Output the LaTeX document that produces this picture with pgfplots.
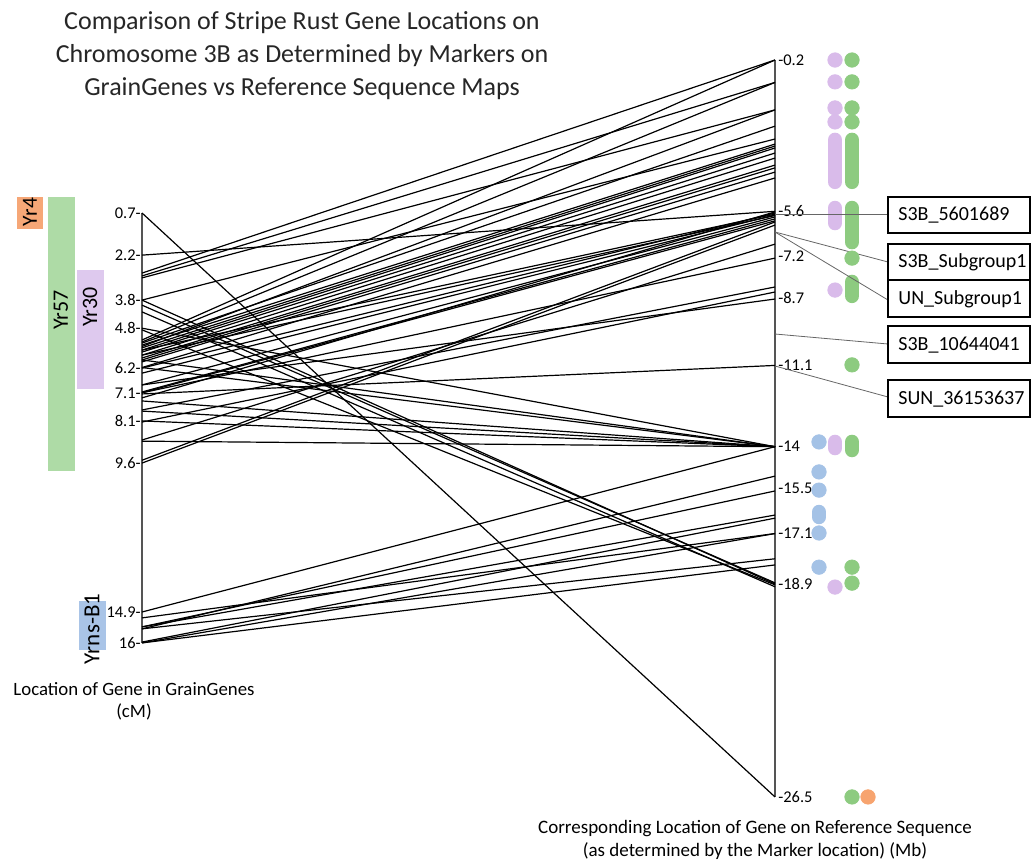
\documentclass[border=0pt]{standalone}
\usepackage{pgfplots}
\pgfplotsset{compat=1.18}
\usepackage{pgfplotstable}
\usepackage{fontspec}
\setmainfont{Carlito}

\definecolor{gdot}{HTML}{8DCB80}
\definecolor{pdot}{HTML}{D9BBEA}
\definecolor{bdot}{HTML}{A4C2E6}
\definecolor{odot}{HTML}{F7A46F}
\definecolor{gbar}{HTML}{AEDBA6}
\definecolor{pbar}{HTML}{DEC9EE}
\definecolor{obar}{HTML}{F6A777}
\definecolor{bbar}{HTML}{A9C4E7}
\definecolor{axcol}{HTML}{555555}

% marker links: L = location on GrainGenes map (cM), R = location on reference sequence (Mb)
\pgfplotstableread{
L R
0.7 -26.5
2.2 -5.6
2.84 -0.2
2.94 -1.0
3.01 -1.98
3.8 -3.02
3.8 -18.9
3.98 -18.86
4.22 -19.0
4.8 -14.0
4.86 -18.93
5.22 -0.2
5.29 -1.0
5.33 -2.56
5.40 -3.2
5.45 -1.98
5.50 -3.27
5.58 -3.34
5.65 -3.52
5.76 -3.7
5.86 -3.95
5.93 -4.05
6.0 -4.2
6.2 -4.41
6.22 -5.66
6.4 -5.73
6.82 -5.8
7.07 -5.87
7.1 -5.94
7.14 -11.1
7.28 -5.62
7.39 -14.0
7.71 -8.3
7.75 -14.0
8.1 -14.0
8.14 -8.48
8.78 -6.77
8.82 -14.0
9.5 -5.98
9.6 -6.09
6.82 -8.73
7.1 -7.27
6.2 -14.0
5.93 -14.0
5.58 -5.7
5.76 -5.75
14.9 -14.0
15.11 -17.1
15.43 -15.58
15.43 -16.44
15.5 -15.05
15.97 -16.55
16.0 -18.22
16.0 -17.1
15.5 -18.0
}\links

\begin{document}
\begin{tikzpicture}
\begin{axis}[
  width=516pt, height=430.5pt, scale only axis,
  xmin=0, xmax=1032, ymin=0, ymax=861, y dir=reverse,
  hide axis, clip=false,
]
\addplot[draw=none, forget plot] coordinates {(0,0)(1032,861)};

% gene region bars (left)
\addplot[fill=obar, draw=none] coordinates {(17,197)(43,197)(43,229)(17,229)};
\addplot[fill=gbar, draw=none] coordinates {(48,197)(75,197)(75,471)(48,471)};
\addplot[fill=pbar, draw=none] coordinates {(77,270)(104,270)(104,389)(77,389)};
\addplot[fill=bbar, draw=none] coordinates {(79,601)(106,601)(106,650)(79,650)};
\node[rotate=90, font=\fontsize{10.8}{12}\selectfont] at (axis cs:30,212) {Yr4};
\node[rotate=90, font=\fontsize{11}{12}\selectfont] at (axis cs:61,310) {Yr57};
\node[rotate=90, font=\fontsize{11}{12}\selectfont] at (axis cs:90,307) {Yr30};
\node[rotate=90, font=\fontsize{11.5}{12}\selectfont] at (axis cs:92,629) {Yrns-B1};

% the two maps
\addplot[axcol, line width=0.8pt] coordinates {(142,213)(142,643)};
\addplot[axcol, line width=0.8pt] coordinates {(775,60)(775,797)};

% links between maps
\addplot[black, line width=0.6pt,
  quiver={u=633, v={54.4-28.02*\thisrow{R}-193.3-28.1*\thisrow{L}}}]
  table[x expr=142, y expr={193.3+28.1*\thisrow{L}}] {\links};

% tick labels
\pgfplotsinvokeforeach{0.7,2.2,3.8,4.8,6.2,7.1,8.1,9.6,14.9,16}{
  \node[anchor=east, inner sep=0pt, font=\fontsize{8.2}{9}\selectfont] at (axis cs:141,{193.3+28.1*#1}) {#1-};
}
\pgfplotsinvokeforeach{-0.2,-5.6,-7.2,-8.7,-11.1,-14,-15.5,-17.1,-18.9,-26.5}{
  \node[anchor=west, inner sep=0pt, font=\fontsize{8.2}{9}\selectfont] at (axis cs:778,{54.4-28.02*(#1)}) {#1};
}

% dots (Mb positions)
\addplot[only marks, mark=*, mark size=3.6pt, color=pdot, y filter/.expression={54.4-28.02*y}]
  coordinates {(835,-0.2)(835,-0.98)(835,-1.91)(835,-2.41)(835,-8.41)(835,-19.01)};
\addplot[pdot, line width=7.2pt, line cap=round, y filter/.expression={54.4-28.02*y}] coordinates {(835,-3.05)(835,-4.55)};
\addplot[pdot, line width=7.2pt, line cap=round, y filter/.expression={54.4-28.02*y}] coordinates {(835,-5.48)(835,-6.02)};
\addplot[pdot, line width=7.2pt, line cap=round, y filter/.expression={54.4-28.02*y}] coordinates {(835,-13.83)(835,-14.05)};

\addplot[only marks, mark=*, mark size=3.6pt, color=gdot, y filter/.expression={54.4-28.02*y}]
  coordinates {(852,-0.2)(852,-0.98)(852,-1.91)(852,-2.41)(852,-7.27)(852,-11.08)(852,-18.3)(852,-18.87)(852,-26.5)};
\addplot[gdot, line width=7.2pt, line cap=round, y filter/.expression={54.4-28.02*y}] coordinates {(852,-3.05)(852,-4.55)};
\addplot[gdot, line width=7.2pt, line cap=round, y filter/.expression={54.4-28.02*y}] coordinates {(852,-5.48)(852,-6.7)};
\addplot[gdot, line width=7.2pt, line cap=round, y filter/.expression={54.4-28.02*y}] coordinates {(852,-8.12)(852,-8.62)};
\addplot[gdot, line width=7.2pt, line cap=round, y filter/.expression={54.4-28.02*y}] coordinates {(852,-13.83)(852,-14.12)};

\addplot[only marks, mark=*, mark size=3.6pt, color=bdot, y filter/.expression={54.4-28.02*y}]
  coordinates {(819,-13.83)(819,-14.9)(819,-15.55)(819,-17.08)(819,-18.3)};
\addplot[bdot, line width=7.2pt, line cap=round, y filter/.expression={54.4-28.02*y}] coordinates {(819,-16.33)(819,-16.51)};

\addplot[only marks, mark=*, mark size=3.6pt, color=odot, y filter/.expression={54.4-28.02*y}]
  coordinates {(868,-26.5)};

% marker callouts
\draw[gray!80!black, line width=0.4pt] (axis cs:775,214) -- (axis cs:888,214);
\draw[gray!80!black, line width=0.4pt] (axis cs:775,232) -- (axis cs:888,262);
\draw[gray!80!black, line width=0.4pt] (axis cs:775,232) -- (axis cs:888,300);
\draw[gray!80!black, line width=0.4pt] (axis cs:775,334) -- (axis cs:888,344);
\draw[gray!80!black, line width=0.4pt] (axis cs:775,366) -- (axis cs:888,397);
\tikzset{cbox/.style={draw=black, line width=0.9pt, fill=white}}
\draw[cbox] (axis cs:888,197) rectangle (axis cs:1030,233);
\draw[cbox] (axis cs:888,244) rectangle (axis cs:1030,280);
\draw[cbox] (axis cs:888,280) rectangle (axis cs:1030,317);
\draw[cbox] (axis cs:888,326) rectangle (axis cs:1030,363);
\draw[cbox] (axis cs:888,380) rectangle (axis cs:1030,417);
\tikzset{ctext/.style={anchor=west, inner sep=0pt, font=\fontsize{10}{11}\selectfont}}
\node[ctext] at (axis cs:898,215) {S3B\_5601689};
\node[ctext] at (axis cs:898,262) {S3B\_Subgroup1};
\node[ctext] at (axis cs:898,299) {UN\_Subgroup1};
\node[ctext] at (axis cs:898,345) {S3B\_10644041};
\node[ctext] at (axis cs:898,399) {SUN\_36153637};

% titles
\node[align=center, font=\fontsize{13}{16.5}\selectfont, text=black!85] at (axis cs:302,56)
  {Comparison of Stripe Rust Gene Locations on\\Chromosome 3B as Determined by Markers on\\GrainGenes vs Reference Sequence Maps};
\node[align=center, font=\fontsize{9.4}{11.2}\selectfont] at (axis cs:134,701)
  {Location of Gene in GrainGenes\\(cM)};
\node[align=center, font=\fontsize{9.5}{11.2}\selectfont] at (axis cs:755,840)
  {Corresponding Location of Gene on Reference Sequence\\(as determined by the Marker location) (Mb)};
\end{axis}
\end{tikzpicture}
\end{document}
